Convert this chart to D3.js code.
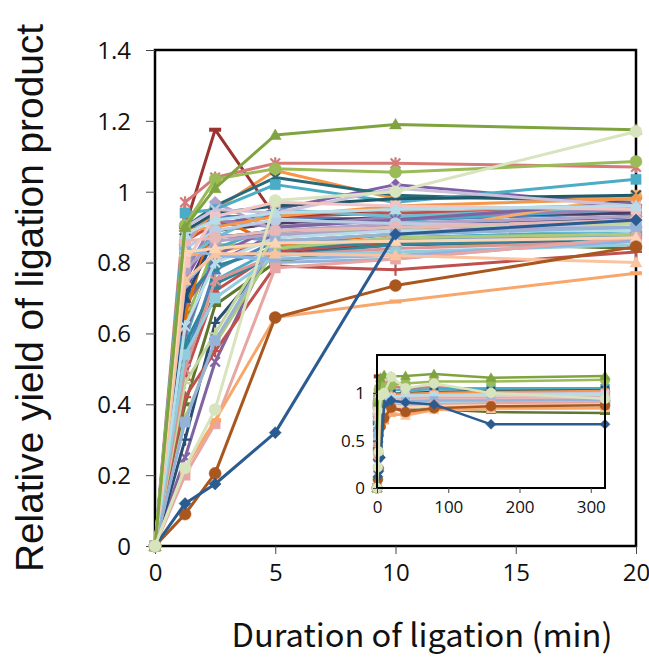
<!DOCTYPE html>
<html>
<head>
<meta charset="utf-8">
<script src="https://cdn.jsdelivr.net/npm/d3@7"></script>
<style>
  body { margin: 0; background: #fff; }
  text { fill: #111; }
</style>
</head>
<body>
<svg id="canvas" width="649" height="657"></svg>
<script>
(function () {
    // sampling times (min); main panel shows up to 20, inset up to 320
    const times = [0, 1.25, 2.5, 5, 10, 20, 40, 80, 160, 320];

    const mainTicksX = [0, 5, 10, 15, 20];
    const mainTicksY = [0, 0.2, 0.4, 0.6, 0.8, 1, 1.2, 1.4];
    const insetTicksX = [0, 100, 200, 300];
    const insetTicksY = [0, 0.5, 1];

    // one row per ligation series, values at each time above
    const yields = [
        [0, 0.88, 0.93, 0.93, 0.92, 0.94, 0.95, 0.96, 0.97, 0.97],
        [0, 0.86, 0.91, 0.93, 0.94, 0.95, 0.96, 0.97, 0.99, 1.00],
        [0, 0.63, 0.85, 0.85, 0.86, 0.87, 0.88, 0.89, 0.90, 0.91],
        [0, 0.25, 0.52, 0.87, 0.90, 0.91, 0.93, 0.95, 0.96, 0.98],
        [0, 0.55, 0.75, 0.84, 0.87, 0.89, 0.90, 0.92, 0.93, 0.94],
        [0, 0.85, 0.95, 1.06, 0.98, 0.985, 0.99, 1.00, 1.01, 1.01],
        [0, 0.30, 0.63, 0.83, 0.85, 0.86, 0.87, 0.88, 0.89, 0.90],
        [0, 0.90, 1.175, 0.93, 0.95, 0.96, 0.98, 1.00, 1.02, 1.03],
        [0, 0.40, 0.68, 0.80, 0.86, 0.84, 0.82, 0.83, 0.80, 0.79],
        [0, 0.72, 0.89, 0.91, 0.93, 0.94, 0.95, 0.97, 0.98, 0.99],
        [0, 0.52, 0.78, 0.86, 0.88, 0.90, 0.91, 0.92, 0.93, 0.93],
        [0, 0.68, 0.80, 0.88, 0.91, 0.93, 0.94, 0.95, 0.96, 0.96],
        [0, 0.58, 0.84, 0.90, 0.92, 0.95, 0.96, 0.97, 0.98, 0.98],
        [0, 0.48, 0.72, 0.83, 0.86, 0.88, 0.89, 0.90, 0.91, 0.91],
        [0, 0.75, 0.90, 0.95, 1.02, 0.96, 0.98, 1.00, 1.01, 1.02],
        [0, 0.70, 0.79, 0.84, 0.86, 0.88, 0.89, 0.90, 0.90, 0.91],
        [0, 0.90, 0.96, 1.04, 0.99, 0.97, 0.98, 0.99, 1.00, 1.00],
        [0, 0.65, 0.93, 0.85, 0.88, 0.92, 0.93, 0.95, 0.96, 0.97],
        [0, 0.80, 0.88, 0.86, 0.86, 0.88, 0.89, 0.90, 0.91, 0.92],
        [0, 0.97, 1.04, 1.08, 1.08, 1.07, 1.05, 1.06, 1.04, 1.05],
        [0, 0.36, 0.57, 0.84, 0.87, 0.88, 0.89, 0.90, 0.91, 0.92],
        [0, 0.77, 0.92, 0.90, 0.93, 0.95, 0.96, 0.98, 0.99, 1.00],
        [0, 0.81, 0.87, 0.95, 0.93, 0.96, 0.97, 0.98, 0.99, 0.99],
        [0, 0.82, 0.83, 0.86, 0.88, 0.99, 0.97, 0.96, 0.95, 0.94],
        [0, 0.70, 0.87, 0.89, 0.90, 0.93, 0.94, 0.95, 0.95, 0.96],
        [0, 0.42, 0.55, 0.79, 0.78, 0.83, 0.85, 0.86, 0.87, 0.88],
        [0, 0.46, 0.60, 0.88, 0.90, 0.91, 0.92, 0.93, 0.93, 0.94],
        [0, 0.85, 0.97, 0.89, 0.91, 0.93, 0.94, 0.95, 0.96, 0.97],
        [0, 0.94, 0.95, 1.02, 0.97, 1.035, 1.03, 1.04, 1.05, 1.05],
        [0, 0.60, 0.82, 0.90, 0.92, 0.97, 0.98, 1.00, 1.01, 1.02],
        [0, 0.57, 0.74, 0.82, 0.85, 0.87, 0.88, 0.89, 0.89, 0.90],
        [0, 0.89, 0.94, 0.96, 0.98, 0.99, 1.00, 1.01, 1.02, 1.03],
        [0, 0.50, 0.75, 0.82, 0.84, 0.86, 0.87, 0.88, 0.88, 0.89],
        [0, 0.89, 0.90, 0.93, 0.96, 0.98, 0.99, 1.00, 1.01, 1.02],
        [0, 0.74, 0.83, 0.80, 0.81, 0.87, 0.88, 0.90, 0.91, 0.92],
        [0, 0.54, 0.70, 0.82, 0.83, 0.85, 0.86, 0.87, 0.87, 0.88],
        [0, 0.90, 0.95, 0.94, 1.01, 0.96, 0.97, 0.98, 0.99, 1.00],
        [0, 0.84, 0.89, 0.92, 0.91, 0.90, 0.91, 0.92, 0.92, 0.93],
        [0, 0.78, 0.86, 0.88, 0.89, 0.90, 0.91, 0.92, 0.93, 0.93],
        [0, 0.62, 0.80, 0.87, 0.89, 0.89, 0.90, 0.91, 0.91, 0.92],
        [0, 0.84, 0.82, 0.81, 0.82, 0.86, 0.87, 0.88, 0.88, 0.89],
        [0, 0.86, 0.87, 0.89, 0.90, 0.92, 0.93, 0.94, 0.94, 0.95],
        [0, 0.80, 0.93, 0.97, 0.96, 0.95, 0.96, 0.97, 0.97, 0.98],
        [0, 0.88, 0.92, 0.94, 0.95, 0.96, 0.97, 0.98, 0.98, 0.99],
        [0, 0.35, 0.58, 0.86, 0.88, 0.90, 0.91, 0.92, 0.92, 0.93],
        [0, 0.20, 0.345, 0.785, 0.81, 0.87, 0.86, 0.88, 0.89, 0.90],
        [0, 0.75, 0.825, 0.825, 0.82, 0.80, 0.76, 0.82, 0.83, 0.84],
        [0, 0.83, 0.84, 0.855, 0.86, 0.87, 0.85, 0.86, 0.87, 0.88],
        [0, 0.22, 0.355, 0.645, 0.69, 0.77, 0.77, 0.82, 0.84, 0.84],
        [0, 0.09, 0.205, 0.645, 0.735, 0.845, 0.80, 0.84, 0.86, 0.87],
        [0, 0.12, 0.175, 0.32, 0.88, 0.92, 0.90, 0.88, 0.67, 0.67],
        [0, 0.905, 1.035, 1.065, 1.055, 1.085, 1.10, 1.12, 1.12, 1.14],
        [0, 0.90, 1.01, 1.16, 1.19, 1.175, 1.18, 1.20, 1.16, 1.18],
        [0, 0.22, 0.385, 0.975, 1.00, 1.17, 1.05, 1.10, 1.00, 0.94]
    ];

    // styles, same order as yields
    const seriesColors = [
        "#4F81BD", "#C0504D", "#9BBB59", "#8064A2", "#4BACC6", "#F79646",
        "#2C4D75", "#9B3331", "#5F7530", "#4D3B62",
        "#4F81BD", "#8064A2", "#4BACC6", "#C0504D", "#7F5FA8", "#31859C",
        "#276A7C", "#E46C0A",
        "#729ACA", "#D57A78", "#AFC97A", "#9983B5", "#6FBDD1", "#F9AB6B",
        "#1F497D", "#C0504D", "#C3D69B", "#B3A2C7", "#4BACC6", "#8064A2",
        "#31859C", "#215968", "#D99694", "#F79646", "#95B3D7", "#93CDDD",
        "#CCC1DA", "#B9CDE5", "#B3A2C7", "#B7DEE8", "#8DB4E2", "#E6B9B8",
        "#F2C4C3", "#B7DEE8",
        "#95B3D7", "#E6A6A4", "#FBC4A0", "#FCD5B5", "#F9A66B", "#A9571E",
        "#2A5B91", "#9BBB59", "#7FA33F", "#D7E4BD"
    ];
    const seriesMarkers = [
        "diamond", "square", "triangle", "x", "asterisk", "circle",
        "plus", "dash", "dash", "square",
        "triangle", "diamond", "x", "triangle", "diamond", "circle",
        "x", "x",
        "asterisk", "asterisk", "plus", "dash", "diamond", "square",
        "triangle", "plus", "plus", "diamond", "square", "asterisk",
        "square", "x", "asterisk", "diamond", "diamond", "square",
        "x", "circle", "circle", "asterisk", "dash", "circle",
        "square", "triangle",
        "square", "square", "triangle", "triangle", "dash", "circle",
        "diamond", "circle", "triangle", "circle"
    ];

    const svg = d3.select("#canvas");

    function markerPath(shape, r) {
        const p = d3.path();
        if (shape === "diamond") {
            p.moveTo(0, -r); p.lineTo(r, 0); p.lineTo(0, r); p.lineTo(-r, 0); p.closePath();
        } else if (shape === "square") {
            p.rect(-r * 0.85, -r * 0.85, r * 1.7, r * 1.7);
        } else if (shape === "triangle") {
            p.moveTo(0, -r); p.lineTo(r, r * 0.75); p.lineTo(-r, r * 0.75); p.closePath();
        } else if (shape === "circle") {
            p.arc(0, 0, r, 0, 2 * Math.PI);
        } else if (shape === "x") {
            p.moveTo(-r * 0.8, -r * 0.8); p.lineTo(r * 0.8, r * 0.8);
            p.moveTo(-r * 0.8, r * 0.8); p.lineTo(r * 0.8, -r * 0.8);
        } else if (shape === "asterisk") {
            p.moveTo(-r * 0.8, -r * 0.8); p.lineTo(r * 0.8, r * 0.8);
            p.moveTo(-r * 0.8, r * 0.8); p.lineTo(r * 0.8, -r * 0.8);
            p.moveTo(0, -r); p.lineTo(0, r);
        } else if (shape === "plus") {
            p.moveTo(-r, 0); p.lineTo(r, 0); p.moveTo(0, -r); p.lineTo(0, r);
        } else {
            p.moveTo(-r, 0); p.lineTo(r, 0);
        }
        return p.toString();
    }
    const stroked = { x: true, asterisk: true, plus: true, dash: true };

    function drawSeries(g, x, y, nPoints, lineW, r) {
        yields.forEach(function (vals, i) {
            const pts = vals.slice(0, nPoints).map(function (v, k) { return [times[k], v]; });
            const col = seriesColors[i];
            const shape = seriesMarkers[i];
            g.append("path")
                .datum(pts)
                .attr("fill", "none")
                .attr("stroke", col)
                .attr("stroke-width", lineW)
                .attr("stroke-linejoin", "round")
                .attr("d", d3.line().x(function (d) { return x(d[0]); }).y(function (d) { return y(d[1]); }));
            g.append("g").selectAll("path")
                .data(pts)
                .join("path")
                .attr("transform", function (d) { return "translate(" + x(d[0]) + "," + y(d[1]) + ")"; })
                .attr("d", markerPath(shape, r))
                .attr("fill", stroked[shape] ? "none" : col)
                .attr("stroke", col)
                .attr("stroke-width", stroked[shape] ? (shape === "dash" ? 4 : 2.2) : 0.5);
        });
    }

    // ---- main panel ----
    const x = d3.scaleLinear().domain([0, 20]).range([155, 636]);
    const y = d3.scaleLinear().domain([0, 1.4]).range([546, 50]);

    svg.append("rect")
        .attr("x", 155).attr("y", 50)
        .attr("width", 481).attr("height", 496)
        .attr("fill", "none").attr("stroke", "#000").attr("stroke-width", 2.5);

    svg.append("g")
        .attr("transform", "translate(155,0)")
        .call(d3.axisLeft(y).tickValues(mainTicksY).tickSize(9).tickPadding(15).tickFormat(d3.format("~g")))
        .call(function (g) { g.select(".domain").remove(); })
        .call(function (g) { g.selectAll("line").attr("stroke", "#444"); })
        .selectAll("text")
        .style("font-family", "'Open Sans'")
        .style("font-size", "24px")
        .attr("dy", "0.35em");

    svg.append("g")
        .attr("transform", "translate(0,546)")
        .call(d3.axisBottom(x).tickValues(mainTicksX).tickSize(8).tickPadding(10).tickFormat(d3.format("~g")))
        .call(function (g) { g.select(".domain").remove(); })
        .call(function (g) { g.selectAll("line").attr("stroke", "#444"); })
        .selectAll("text")
        .style("font-family", "'Open Sans'")
        .style("font-size", "24px");

    drawSeries(svg.append("g"), x, y, 6, 3, 6);

    // ---- inset panel ----
    const xi = d3.scaleLinear().domain([0, 320]).range([377, 605]);
    const yi = d3.scaleLinear().domain([0, 1.4]).range([488, 355]);

    svg.append("rect")
        .attr("x", 377).attr("y", 355)
        .attr("width", 228).attr("height", 133)
        .attr("fill", "#fff");

    drawSeries(svg.append("g"), xi, yi, 10, 2.5, 5);

    svg.append("rect")
        .attr("x", 377).attr("y", 355)
        .attr("width", 228).attr("height", 133)
        .attr("fill", "none").attr("stroke", "#000").attr("stroke-width", 2);

    svg.append("g")
        .attr("transform", "translate(377,0)")
        .call(d3.axisLeft(yi).tickValues(insetTicksY).tickSize(4).tickPadding(8).tickFormat(d3.format("~g")))
        .call(function (g) { g.select(".domain").remove(); })
        .call(function (g) { g.selectAll("line").attr("stroke", "#444"); })
        .selectAll("text")
        .style("font-family", "'Open Sans'")
        .style("font-size", "17px")
        .attr("dy", "0.35em");

    svg.append("g")
        .attr("transform", "translate(0,488)")
        .call(d3.axisBottom(xi).tickValues(insetTicksX).tickSize(5).tickPadding(8).tickFormat(d3.format("~g")))
        .call(function (g) { g.select(".domain").remove(); })
        .call(function (g) { g.selectAll("line").attr("stroke", "#444"); })
        .selectAll("text")
        .style("font-family", "'Open Sans'")
        .style("font-size", "17px");

    // ---- axis titles ----
    svg.append("text")
        .attr("x", 422).attr("y", 647)
        .attr("text-anchor", "middle")
        .attr("textLength", 381)
        .attr("lengthAdjust", "spacingAndGlyphs")
        .style("font-family", "'Noto Sans CJK JP'")
        .style("font-size", "32px")
        .text("Duration of ligation (min)");

    svg.append("text")
        .attr("transform", "translate(43,298) rotate(-90)")
        .attr("text-anchor", "middle")
        .attr("textLength", 548)
        .attr("lengthAdjust", "spacingAndGlyphs")
        .style("font-family", "'Liberation Sans'")
        .style("font-size", "39px")
        .text("Relative yield of ligation product");
})();
</script>
</body>
</html>
